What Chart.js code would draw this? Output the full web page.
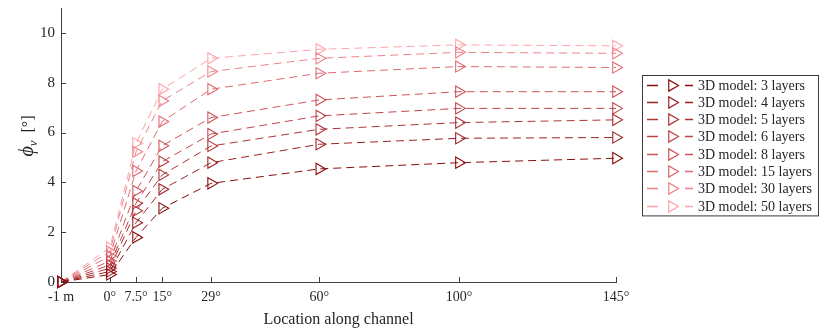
<!DOCTYPE html>
<html>
<head>
<meta charset="utf-8">
<script src="https://cdn.jsdelivr.net/npm/chart.js@4.4.1/dist/chart.umd.min.js"></script>
<style>
  html, body { margin: 0; padding: 0; background: #fff; }
  canvas { display: block; }
</style>
</head>
<body>
<canvas id="phi-chart" width="820" height="329"></canvas>
<script>
// Location along the channel: "-1 m" sits upstream of the bend at an offset of -14
const locations = [-14, 0, 7.5, 15, 29, 60, 100, 145];
const locationLabels = ["-1 m", "0°", "7.5°", "15°", "29°", "60°", "100°", "145°"];
const yTicks = [0, 2, 4, 6, 8, 10];

const layerCounts = [3, 4, 5, 6, 8, 15, 30, 50];
const layerColors = ["#8b0c0c", "#9c2226", "#ad3437", "#bf4449", "#cf5459", "#df6a70", "#ef8189", "#ffa3aa"];

// phi_v [deg] per model
const phi3  = [0.0, 0.30, 1.79, 2.96, 3.96, 4.54, 4.79, 4.97];
const phi4  = [0.0, 0.42, 2.38, 3.72, 4.79, 5.53, 5.77, 5.80];
const phi5  = [0.0, 0.55, 2.86, 4.30, 5.46, 6.13, 6.40, 6.51];
const phi6  = [0.0, 0.68, 3.16, 4.83, 5.94, 6.67, 6.97, 6.97];
const phi8  = [0.0, 0.84, 3.65, 5.47, 6.60, 7.31, 7.64, 7.64];
const phi15 = [0.0, 1.04, 4.46, 6.44, 7.74, 8.38, 8.65, 8.61];
const phi30 = [0.0, 1.22, 5.23, 7.27, 8.45, 8.98, 9.22, 9.18];
const phi50 = [0.0, 1.38, 5.57, 7.74, 8.98, 9.34, 9.52, 9.48];
const phiSeries = [phi3, phi4, phi5, phi6, phi8, phi15, phi30, phi50];

const SERIF = "'Liberation Serif', 'Times New Roman', serif";
const TEXT = "#262626";
const AXIS = "#404040";

const datasets = phiSeries.map((vals, i) => ({
  label: `3D model: ${layerCounts[i]} layers`,
  data: vals.map((v, j) => ({ x: locations[j], y: v })),
  borderColor: layerColors[i],
  backgroundColor: "transparent",
  borderWidth: 1,
  borderDash: [8, 5],
  pointStyle: "triangle",
  rotation: 90,
  pointRadius: 6.5,
  pointBorderWidth: 1.1,
  pointBackgroundColor: "transparent",
  pointBorderColor: layerColors[i],
  tension: 0,
  clip: false,
}));

// inward tick marks on both axes
const innerTicks = {
  id: "innerTicks",
  afterDraw(chart) {
    const { ctx, chartArea: a, scales } = chart;
    ctx.save();
    ctx.strokeStyle = AXIS;
    ctx.lineWidth = 1;
    ctx.beginPath();
    locations.forEach((v) => {
      const px = Math.round(scales.x.getPixelForValue(v)) + 0.5;
      ctx.moveTo(px, a.bottom);
      ctx.lineTo(px, a.bottom - 5);
    });
    yTicks.forEach((v) => {
      const py = Math.round(scales.y.getPixelForValue(v)) + 0.5;
      ctx.moveTo(a.left, py);
      ctx.lineTo(a.left + 5, py);
    });
    ctx.stroke();
    ctx.restore();
  },
};

// rotated y title with italic phi and subscript v
const yTitle = {
  id: "yTitle",
  afterDraw(chart) {
    const { ctx } = chart;
    ctx.save();
    ctx.translate(27, 136);
    ctx.rotate(-Math.PI / 2);
    ctx.fillStyle = TEXT;
    ctx.textBaseline = "alphabetic";
    ctx.font = `italic 20px ${SERIF}`;
    const w1 = ctx.measureText("ϕ").width;
    ctx.font = `italic 13px ${SERIF}`;
    const w2 = ctx.measureText("v").width;
    ctx.font = `16px ${SERIF}`;
    const w3 = ctx.measureText("[°]").width;
    const gap = 8;
    let x = -(w1 + w2 + gap + w3) / 2;
    ctx.font = `italic 20px ${SERIF}`;
    ctx.fillText("ϕ", x, 6);
    x += w1;
    ctx.font = `italic 13px ${SERIF}`;
    ctx.fillText("v", x, 10);
    x += w2 + gap;
    ctx.font = `16px ${SERIF}`;
    ctx.fillText("[°]", x, 6);
    ctx.restore();
  },
};

// boxed legend: short dash, marker, short dash, then label
const boxLegend = {
  id: "boxLegend",
  afterDraw(chart) {
    const { ctx } = chart;
    const left = 642.5, top = 75.5, right = 818.5, rowH = 17.3;
    const bottom = top + rowH * datasets.length + 2;
    ctx.save();
    ctx.fillStyle = "#fff";
    ctx.fillRect(left, top, right - left, bottom - top);
    ctx.strokeStyle = "#3a3a3a";
    ctx.lineWidth = 1;
    ctx.strokeRect(left, top, right - left, bottom - top);
    datasets.forEach((ds, i) => {
      const y = Math.round(top + 9 + i * rowH) + 0.5;
      ctx.strokeStyle = ds.borderColor;
      ctx.fillStyle = "transparent";
      ctx.lineWidth = 1.3;
      ctx.beginPath();
      ctx.moveTo(647, y);
      ctx.lineTo(658, y);
      ctx.moveTo(685, y);
      ctx.lineTo(693, y);
      ctx.stroke();
      ctx.lineWidth = 1.2;
      Chart.helpers.drawPoint(ctx, {
        pointStyle: "triangle",
        rotation: 90,
        radius: 6.5,
        borderWidth: 1.2,
      }, 672, y);
      ctx.fillStyle = TEXT;
      ctx.font = `14px ${SERIF}`;
      ctx.textBaseline = "middle";
      ctx.fillText(ds.label, 698, y + 1);
    });
    ctx.restore();
  },
};

new Chart(document.getElementById("phi-chart"), {
  type: "line",
  data: { datasets },
  plugins: [innerTicks, yTitle, boxLegend],
  options: {
    responsive: false,
    animation: false,
    layout: { padding: { left: 0, right: 204, top: 8, bottom: 0 } },
    plugins: {
      legend: { display: false },
      tooltip: { enabled: false },
    },
    scales: {
      x: {
        type: "linear",
        min: -14,
        max: 145,
        afterBuildTicks: (scale) => {
          scale.ticks = locations.map((v) => ({ value: v }));
        },
        afterFit: (scale) => {
          scale.height = 47;
          scale.paddingLeft = 0;
          scale.paddingRight = 0;
        },
        grid: { display: false, drawTicks: false },
        border: { display: true, color: AXIS, width: 1 },
        ticks: {
          autoSkip: false,
          maxRotation: 0,
          padding: 7,
          color: TEXT,
          font: { family: SERIF, size: 14 },
          callback: (v) => locationLabels[locations.indexOf(v)],
        },
        title: {
          display: true,
          text: "Location along channel",
          color: TEXT,
          font: { family: SERIF, size: 16 },
          padding: { top: 0, bottom: 0 },
        },
      },
      y: {
        min: 0,
        max: 11,
        afterBuildTicks: (scale) => {
          scale.ticks = yTicks.map((v) => ({ value: v }));
        },
        afterFit: (scale) => {
          scale.width = 61;
          scale.paddingTop = 0;
          scale.paddingBottom = 0;
        },
        grid: { display: false, drawTicks: false },
        border: { display: true, color: AXIS, width: 1 },
        ticks: {
          padding: 6,
          color: TEXT,
          font: { family: SERIF, size: 15 },
        },
      },
    },
  },
});
</script>
</body>
</html>
